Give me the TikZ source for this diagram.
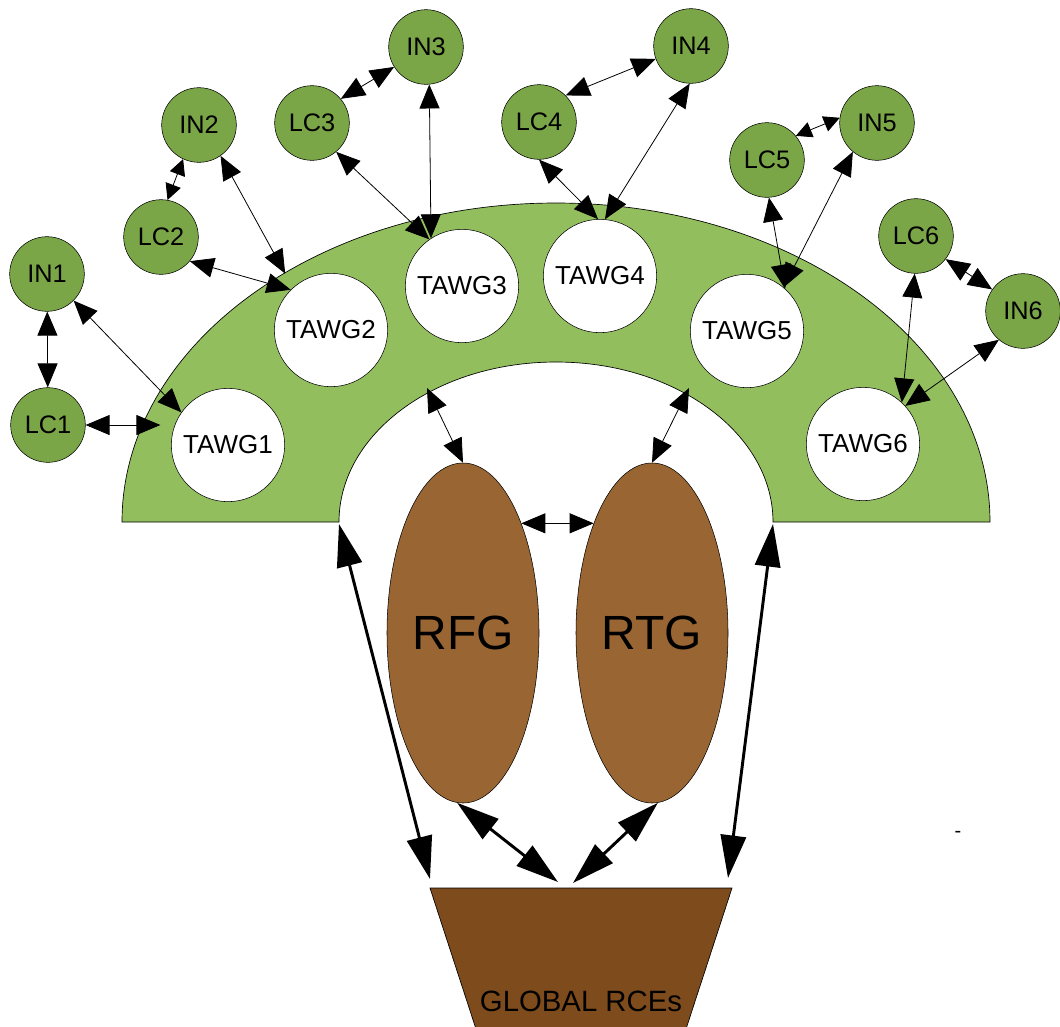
\documentclass[tikz,border=0pt]{standalone}
\usepackage{fontspec}
\setmainfont{Liberation Sans}
\usepackage{tikz}
\usetikzlibrary{arrows.meta}
\usetikzlibrary{shapes.geometric}
\definecolor{ringgreen}{HTML}{92BE5E}
\definecolor{nodegreen}{HTML}{7AA648}
\definecolor{genbrown}{HTML}{996633}
\definecolor{rcebrown}{HTML}{7E4B1C}
\tikzset{ncirc/.style={circle, draw, fill=nodegreen, minimum size=56pt, inner sep=0pt, font=\fontsize{19}{20}\selectfont}}
\tikzset{tawg/.style={circle, draw, fill=white, minimum size=85pt, inner sep=0pt, font=\fontsize{19.5}{20}\selectfont}}
\tikzset{gennode/.style={ellipse, draw, fill=genbrown, minimum width=114pt, minimum height=255pt, inner sep=0pt, font=\fontsize{36}{38}\selectfont}}
\tikzstyle{link} = [line width=0.6pt,{Triangle[length=18pt,width=15pt]}-{Triangle[length=18pt,width=15pt]}]
\tikzstyle{shortlink} = [line width=0.6pt,{Triangle[length=12pt,width=12pt]}-{Triangle[length=12pt,width=12pt]}]
\tikzstyle{biglink} = [line width=2.2pt,{Triangle[length=32pt,width=19pt]}-{Triangle[length=32pt,width=19pt]}]

\begin{document}
\begin{tikzpicture}[x=0.75pt,y=-0.75pt]
\useasboundingbox (0,0) rectangle (1060,1026);

% half ring
\draw[fill=ringgreen, line width=0.5pt] (122,522) arc[start angle=180, end angle=360, x radius=434, y radius=319]
  -- (773,522) arc[start angle=0, end angle=-180, x radius=217, y radius=160] -- cycle;
\coordinate (innerL) at (427,388);
\coordinate (innerR) at (689,388);
\coordinate (ringL) at (339,524);
\coordinate (ringR) at (773,524);

\node[tawg] (TAWG1) at (228,445) {TAWG1};
\node[tawg] (TAWG2) at (331,330) {TAWG2};
\node[tawg] (TAWG3) at (462,286) {TAWG3};
\node[tawg] (TAWG4) at (600,276) {TAWG4};
\node[tawg] (TAWG5) at (747,331) {TAWG5};
\node[tawg] (TAWG6) at (863,444) {TAWG6};

\node[gennode] (RFG) at (463,633) {RFG};
\node[gennode] (RTG) at (652,633) {RTG};

% global RCEs
\draw[fill=rcebrown, line width=0.5pt] (430,888) -- (732,888) -- (682.4,1040) -- (479.6,1040) -- cycle;
\node[font=\fontsize{22}{24}\selectfont] (rce) at (581,1001) {GLOBAL RCEs};
\coordinate (rceL) at (430,879);
\coordinate (rceR) at (728,878);
\coordinate (rceA) at (558,882);
\coordinate (rceB) at (573,883);

\node[ncirc] (IN1) at (47,274) {IN1};
\node[ncirc] (LC1) at (48,425) {LC1};
\node[ncirc] (LC2) at (161,237) {LC2};
\node[ncirc] (IN2) at (199,125) {IN2};
\node[ncirc] (LC3) at (312,123) {LC3};
\node[ncirc] (IN3) at (426,47) {IN3};
\node[ncirc] (LC4) at (539,122) {LC4};
\node[ncirc] (IN4) at (691,46) {IN4};
\node[ncirc] (LC5) at (767,160) {LC5};
\node[ncirc] (IN5) at (877,123) {IN5};
\node[ncirc] (LC6) at (916,236) {LC6};
\node[ncirc] (IN6) at (1023,311) {IN6};

\node[font=\fontsize{15}{16}\selectfont] (dash) at (958,834) {-};

\draw[link] (IN1) -- (LC1);
\draw[link] (IN1.-45) -- (TAWG1.145);
\draw[link, shorten >=8pt] (LC1.east) -- (TAWG1.west |- LC1.east);
\draw[shortlink] (LC2.80) -- (IN2.-115);
\draw[link] (LC2.-40) -- (TAWG2.135);
\draw[link, shorten >=12pt] (IN2.-55) -- (TAWG2.132);
\draw[link] (LC3.40) -- (IN3.-148);
\draw[link] (LC3.-50) -- (TAWG3.125);
\draw[link] (IN3.-85) -- (TAWG3.123);
\draw[link] (LC4.45) -- (IN4.-160);
\draw[link] (LC4.-90) -- (TAWG4.92);
\draw[link] (IN4.-92) -- (TAWG4.85);
\draw[shortlink] (LC5.40) -- (IN5.172);
\draw[link] (LC5.-87) -- (TAWG5.48);
\draw[link] (IN5.-130) -- (TAWG5.50);
\draw[link] (LC6.-38) -- (IN6.145);
\draw[link] (LC6.-92) -- (TAWG6.47);
\draw[link] (IN6.-130) -- (TAWG6.42);

\draw[link] (innerL) -- (RFG.north);
\draw[link] (innerR) -- (RTG.north);
\draw[link] (RFG.62) -- (RTG.118);

\draw[biglink] (ringL) -- (rceL);
\draw[biglink] (ringR) -- (rceR);
\draw[biglink] (RFG.-92) -- (rceA);
\draw[biglink] (RTG.-88) -- (rceB);
\end{tikzpicture}
\end{document}
